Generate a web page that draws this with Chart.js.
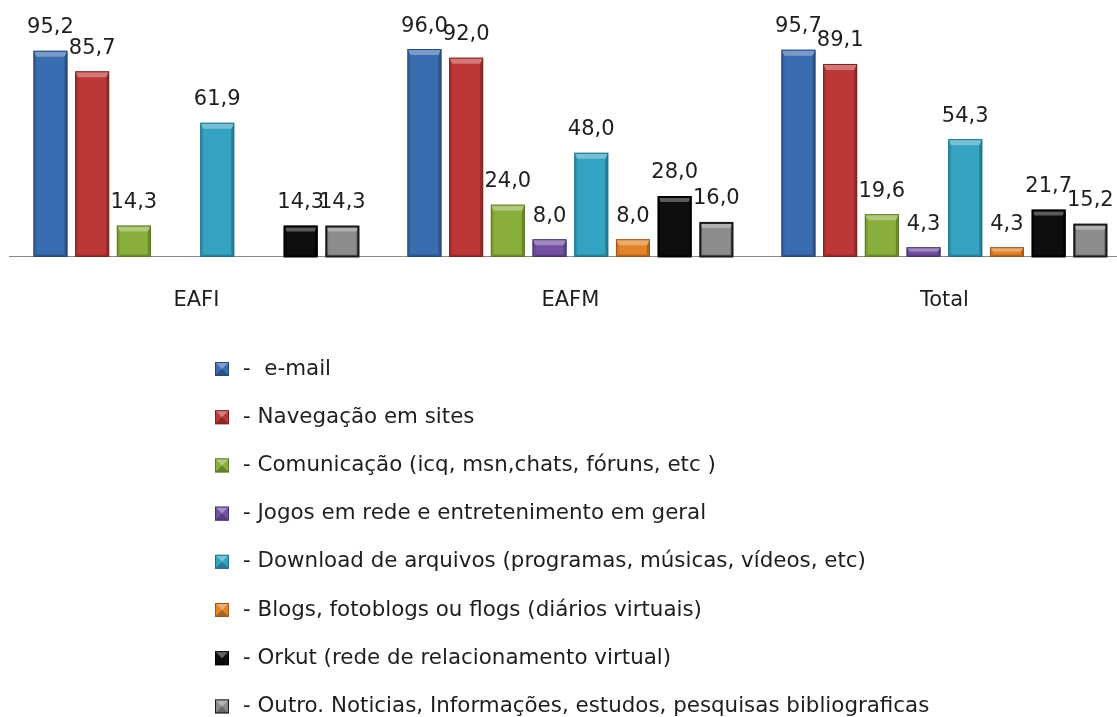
<!DOCTYPE html>
<html><head><meta charset="utf-8">
<script src="https://cdn.jsdelivr.net/npm/chart.js@4.4.1/dist/chart.umd.min.js"></script>
<style>
html,body{margin:0;padding:0;background:#fff;overflow:hidden;width:1117px;height:717px}
#wrap{position:absolute;left:0;top:0;width:1140px;height:717px}
</style></head>
<body><div id="wrap"><canvas id="c" width="1140" height="717"></canvas></div>
<script>
// ---- data ----
const categories = ['EAFI', 'EAFM', 'Total'];
const seriesNames = [
  ' e-mail',
  'Navegação em sites',
  'Comunicação (icq, msn,chats, fóruns, etc )',
  'Jogos em rede e entretenimento em geral',
  'Download de arquivos (programas, músicas, vídeos, etc)',
  'Blogs, fotoblogs ou flogs (diários virtuais)',
  'Orkut (rede de relacionamento virtual)',
  'Outro. Noticias, Informações, estudos, pesquisas bibliograficas'
];
const emailValues    = [95.2, 96.0, 95.7];
const navegValues    = [85.7, 92.0, 89.1];
const comunicValues  = [14.3, 24.0, 19.6];
const jogosValues    = [null, 8.0, 4.3];
const downloadValues = [61.9, 48.0, 54.3];
const blogsValues    = [null, 8.0, 4.3];
const orkutValues    = [14.3, 28.0, 21.7];
const outroValues    = [14.3, 16.0, 15.2];
const seriesValues = [emailValues, navegValues, comunicValues, jogosValues,
                      downloadValues, blogsValues, orkutValues, outroValues];

// ---- styles ----
const seriesColors = ['#3a6cb0', '#bb3836', '#8aae3c', '#7352a3', '#34a3c1', '#e3832a', '#0e0e0e', '#8c8c8c'];
const seriesBorders = ['#24487a', '#7e2220', '#5d7a26', '#4b3370', '#21708a', '#a0561a', '#000000', '#1a1a1a'];
const FONT = "'DejaVu Sans', sans-serif";

const bevelPlugin = {
  id: 'bevel',
  afterDatasetsDraw(chart) {
    const ctx = chart.ctx;
    chart.data.datasets.forEach((ds, i) => {
      const meta = chart.getDatasetMeta(i);
      meta.data.forEach((el, j) => {
        if (ds.data[j] == null) return;
        const p = el.getProps(['x', 'y', 'base', 'width'], true);
        const l = p.x - p.width / 2, r = p.x + p.width / 2, t = p.y, b = p.base;
        const h = b - t;
        const bv = Math.min(6, h / 2.2);
        const sv = 3;
        ctx.save();
        ctx.fillStyle = 'rgba(0,0,0,0.10)';
        ctx.beginPath(); ctx.moveTo(l, t); ctx.lineTo(l + sv, t + bv); ctx.lineTo(l + sv, b - 2); ctx.lineTo(l, b); ctx.closePath(); ctx.fill();
        ctx.fillStyle = 'rgba(0,0,0,0.22)';
        ctx.beginPath(); ctx.moveTo(r, t); ctx.lineTo(r - sv, t + bv); ctx.lineTo(r - sv, b - 2); ctx.lineTo(r, b); ctx.closePath(); ctx.fill();
        ctx.fillStyle = 'rgba(255,255,255,0.32)';
        ctx.beginPath(); ctx.moveTo(l, t); ctx.lineTo(r, t); ctx.lineTo(r - sv, t + bv); ctx.lineTo(l + sv, t + bv); ctx.closePath(); ctx.fill();
        ctx.fillStyle = 'rgba(0,0,0,0.2)';
        ctx.beginPath(); ctx.moveTo(l, b); ctx.lineTo(r, b); ctx.lineTo(r - sv, b - 2); ctx.lineTo(l + sv, b - 2); ctx.closePath(); ctx.fill();
        ctx.strokeStyle = seriesBorders[i];
        ctx.lineWidth = (i >= 6) ? 2 : 1;
        ctx.strokeRect(l + ctx.lineWidth / 2, t + ctx.lineWidth / 2, p.width - ctx.lineWidth, h - ctx.lineWidth / 2);
        ctx.restore();
      });
    });
  }
};

const valueLabelPlugin = {
  id: 'valueLabels',
  afterDatasetsDraw(chart) {
    const ctx = chart.ctx;
    ctx.save();
    ctx.font = '21px ' + FONT;
    ctx.fillStyle = '#1e1e1e';
    ctx.textAlign = 'center';
    ctx.textBaseline = 'alphabetic';
    chart.data.datasets.forEach((ds, i) => {
      const meta = chart.getDatasetMeta(i);
      meta.data.forEach((el, j) => {
        const v = ds.data[j];
        if (v == null) return;
        ctx.fillText(v.toFixed(1).replace('.', ','), el.x, el.y - 17.5);
      });
    });
    ctx.restore();
  }
};

const listLegendPlugin = {
  id: 'listLegend',
  afterDraw(chart) {
    const ctx = chart.ctx;
    ctx.save();
    ctx.font = '21.4px ' + FONT;
    ctx.textBaseline = 'middle';
    ctx.textAlign = 'left';
    chart.data.datasets.forEach((ds, i) => {
      const cy = 369 + i * 48.2;
      const bx = 215, bs = 14, by = cy - bs / 2;
      ctx.fillStyle = seriesColors[i];
      ctx.fillRect(bx, by, bs, bs);
      ctx.fillStyle = 'rgba(255,255,255,0.35)';
      ctx.beginPath(); ctx.moveTo(bx, by); ctx.lineTo(bx + bs, by); ctx.lineTo(bx + bs / 2, by + bs / 2); ctx.closePath(); ctx.fill();
      ctx.fillStyle = 'rgba(0,0,0,0.25)';
      ctx.beginPath(); ctx.moveTo(bx, by + bs); ctx.lineTo(bx + bs, by + bs); ctx.lineTo(bx + bs / 2, by + bs / 2); ctx.closePath(); ctx.fill();
      ctx.strokeStyle = seriesBorders[i];
      ctx.lineWidth = 1;
      ctx.strokeRect(bx + 0.5, by + 0.5, bs - 1, bs - 1);
      ctx.fillStyle = '#1e1e1e';
      ctx.fillText('- ' + ds.label, 243, cy);
    });
    ctx.restore();
  }
};

new Chart(document.getElementById('c'), {
  type: 'bar',
  data: {
    labels: categories,
    datasets: seriesNames.map((name, i) => ({
      label: name,
      data: seriesValues[i],
      backgroundColor: seriesColors[i],
      borderWidth: 0,
      categoryPercentage: 0.892,
      barPercentage: 0.815
    }))
  },
  options: {
    responsive: false,
    devicePixelRatio: 1,
    animation: false,
    layout: { padding: { left: 9.4, right: 8.6, top: 40.4, bottom: 373.3 } },
    plugins: { legend: { display: false }, tooltip: { enabled: false } },
    scales: {
      x: {
        grid: { display: false, drawTicks: false },
        border: { display: true, color: '#8a8a8a', width: 1 },
        ticks: { font: { family: FONT, size: 21 }, color: '#1e1e1e', padding: 31 }
      },
      y: { display: false, min: 0, max: 100 }
    }
  },
  plugins: [bevelPlugin, valueLabelPlugin, listLegendPlugin]
});
</script>
</body></html>
